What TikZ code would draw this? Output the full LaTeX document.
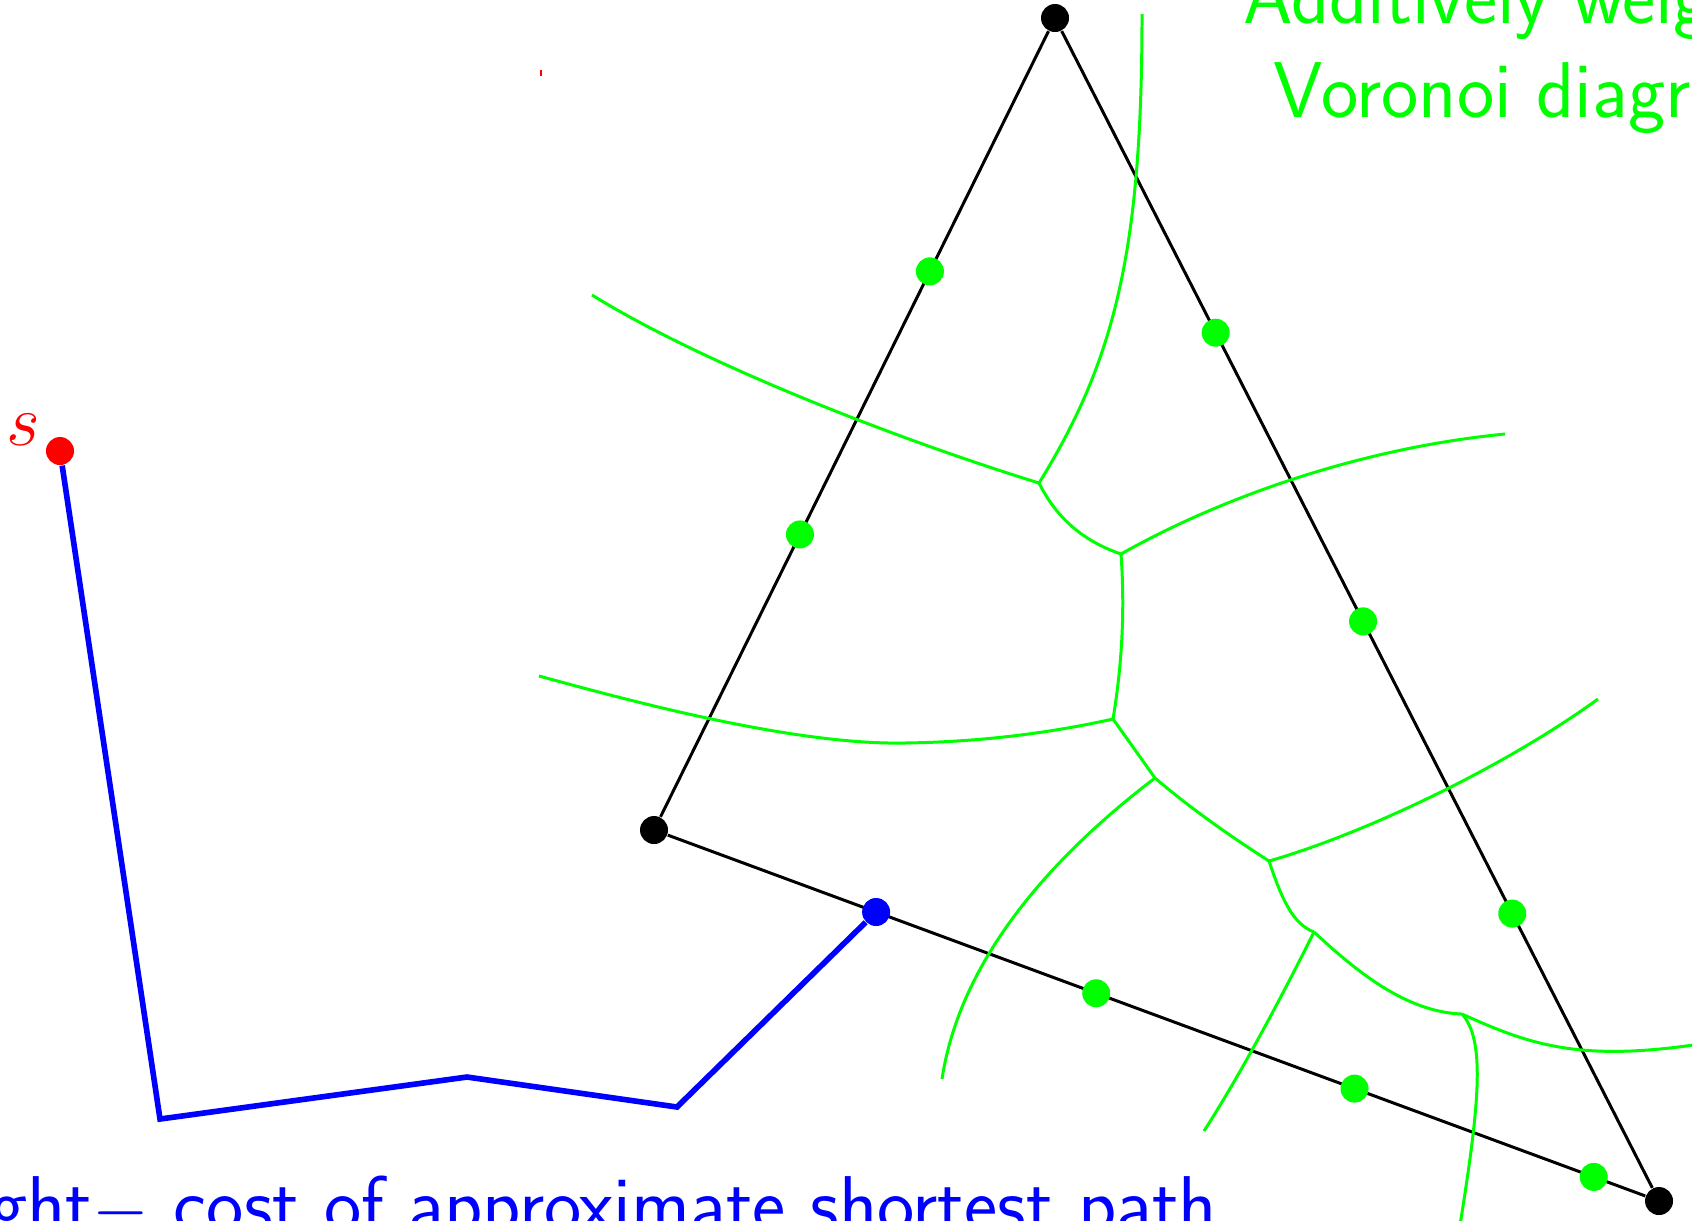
\documentclass[tikz,border=0pt]{standalone}
\usepackage{xcolor}
\usepackage{tikz}
\usetikzlibrary{calc,backgrounds}
\definecolor{vorgreen}{HTML}{00FF00}
\definecolor{pathblue}{HTML}{0000FF}
\definecolor{srcred}{HTML}{FF0000}

\begin{document}
\begin{tikzpicture}[x=0.01cm,y=-0.01cm,font=\fontsize{22.5pt}{28pt}\selectfont\sffamily]
        \tikzstyle{site}=[circle,fill,inner sep=0pt,minimum size=0.28cm]
        \tikzstyle{edge}=[black,line width=0.85pt]
        \tikzstyle{bisec}=[vorgreen,line width=0.85pt]
        \tikzstyle{route}=[pathblue,line width=1.6pt]
        \useasboundingbox (0,0) rectangle (1692,1220);
        % triangle corners and source
        \node[site] (a) at (1055,18) {};
        \node[site] (b) at (654,830) {};
        \node[site] (c) at (1659,1201) {};
        \node[site,srcred] (s) at (60,451) {};
        \node[srcred,inner sep=0pt] (slabel) at (23,430) {$s$};
        \node[site,pathblue] (q) at ($(b)!0.221!(c)$) {};
        % weighted sites on the edges
        \node[site,vorgreen] (g1) at ($(a)!0.312!(b)$) {};
        \node[site,vorgreen] (g2) at ($(a)!0.636!(b)$) {};
        \node[site,vorgreen] (g3) at ($(a)!0.266!(c)$) {};
        \node[site,vorgreen] (g4) at ($(a)!0.510!(c)$) {};
        \node[site,vorgreen] (g5) at ($(a)!0.757!(c)$) {};
        \node[site,vorgreen] (g6) at ($(b)!0.440!(c)$) {};
        \node[site,vorgreen] (g7) at ($(b)!0.697!(c)$) {};
        \node[site,vorgreen] (g8) at ($(b)!0.935!(c)$) {};
        % Voronoi vertices
        \coordinate (v1) at (1039,483);
        \coordinate (v2) at (1121,554);
        \coordinate (v3) at (1113,719);
        \coordinate (v4) at (1155,778);
        \coordinate (v5) at (1269,861);
        \coordinate (v6) at (1314,932);
        \coordinate (v7) at (1462,1014);
        % path bends
        \coordinate (p1) at (160,1119);
        \coordinate (p2) at (467,1077);
        \coordinate (p3) at (677,1107);
        \begin{scope}[on background layer]
          \draw[edge] (a) -- (b) -- (c) -- (a);
          \draw[route] (s) -- (p1) -- (p2) -- (p3) -- (q);
          \draw[bisec] (1142,14) .. controls (1142,250) and (1115,360) .. (v1);
          \draw[bisec] (592,295) .. controls (705,365) and (900,440) .. (v1);
          \draw[bisec] (v1) .. controls (1055,515) and (1080,540) .. (v2);
          \draw[bisec] (v2) .. controls (1220,498) and (1360,448) .. (1505,434);
          \draw[bisec] (v2) .. controls (1125,610) and (1122,665) .. (v3);
          \draw[bisec] (539,676) .. controls (620,698) and (790,745) .. (904,743)
                       .. controls (980,742) and (1050,733) .. (v3);
          \draw[bisec] (v3) -- (v4);
          \draw[bisec] (v4) .. controls (1050,858) and (960,960) .. (942,1079);
          \draw[bisec] (v4) .. controls (1190,808) and (1230,836) .. (v5);
          \draw[bisec] (v5) .. controls (1360,835) and (1500,770) .. (1598,699);
          \draw[bisec] (v5) .. controls (1282,900) and (1293,924) .. (v6);
          \draw[bisec] (v6) .. controls (1280,1000) and (1240,1075) .. (1204,1131);
          \draw[bisec] (v6) .. controls (1355,970) and (1405,1012) .. (v7);
          \draw[bisec] (v7) .. controls (1530,1045) and (1580,1062) .. (1700,1044);
          \draw[bisec] (v7) .. controls (1485,1040) and (1480,1100) .. (1460,1225);
        \end{scope}
        \fill[srcred] (540,70) rectangle (542,76);
        \node[vorgreen,anchor=base west,inner sep=0pt] (title1) at (1243,23) {Additively weighted};
        \node[vorgreen,anchor=base west,inner sep=0pt] (title2) at (1273,117) {Voronoi diagram};
        \node[pathblue,anchor=base east,inner sep=0pt] (cost) at (1218,1231) {Weight$-$ cost of approximate shortest path};
      \end{tikzpicture}
\end{document}
